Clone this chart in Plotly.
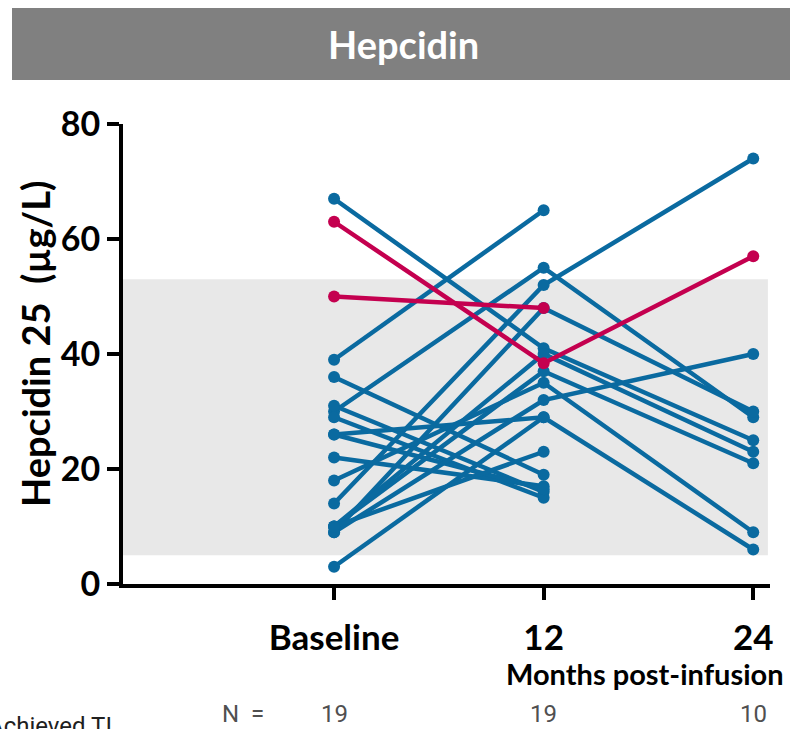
import plotly.graph_objects as go

# ---- data -------------------------------------------------------------
time_labels = ["Baseline", "12", "24"]
n_counts = [19, 19, 10]

# hepcidin-25 (µg/L) per patient at baseline, month 12 and month 24
baseline = [67, 39, 30, 9, 14, 36, 31, 29, 26, 3, 22, 26, 18, 10, 10, 9, 10, 63, 50]
month12 = [41, 65, 55, 48, 52, 19, 16, 15, 29, 29, 17, 16.5, 35, 37, 40, 32, 23, 38.4, 48]
month24 = [25, None, 29, 30, 74, None, None, None, 6, None, None, None, 9, 21, 23, 40, None, 57, None]
highlight = [False] * 17 + [True, True]

normal_low, normal_high = 5, 53

# ---- style ------------------------------------------------------------
BLUE = "#0a6aa0"
RED = "#c4004f"
FONT = "Lato"
SMALL_FONT = "Liberation Sans Narrow, Roboto"

W, H = 790, 729
L, R, T, B = 123, 770, 124, 584


def px_x(p):
    return (p - L) / (R - L)


def px_y(p):
    return (B - p) / (B - T)


fig = go.Figure()

# reference range band
fig.add_shape(type="rect", xref="x", yref="y", x0=-1.007, x1=2.07,
              y0=normal_low, y1=normal_high, fillcolor="#e8e8e8",
              line=dict(width=0), layer="below")

order = [i for i in range(len(baseline)) if not highlight[i]] + \
        [i for i in range(len(baseline)) if highlight[i]]
for i in order:
    xs, ys = [], []
    for k, v in enumerate([baseline[i], month12[i], month24[i]]):
        if v is not None:
            xs.append(k)
            ys.append(v)
    col = RED if highlight[i] else BLUE
    fig.add_trace(go.Scatter(
        x=xs, y=ys, mode="lines+markers",
        line=dict(color=col, width=4.5),
        marker=dict(color=col, size=12),
        showlegend=False, hoverinfo="skip"))

# title bar
fig.add_shape(type="rect", xref="paper", yref="paper",
              x0=px_x(12), x1=px_x(792), y0=px_y(80), y1=px_y(8),
              fillcolor="#808080", line=dict(width=0))
fig.add_annotation(xref="paper", yref="paper", x=px_x(403), y=px_y(44),
                   text="<b>Hepcidin</b>", showarrow=False,
                   font=dict(family=FONT, size=38, color="white"),
                   xanchor="center", yanchor="middle")

# y title
fig.add_annotation(xref="paper", yref="paper", x=px_x(35), y=px_y(344),
                   text="<b>Hepcidin 25  (µg/L)</b>", showarrow=False,
                   textangle=-90, font=dict(family=FONT, size=38, color="black"),
                   xanchor="center", yanchor="middle")

# x subtitle
fig.add_annotation(xref="paper", yref="paper", x=px_x(786), y=px_y(673),
                   text="<b>Months post-infusion</b>", showarrow=False,
                   font=dict(family=FONT, size=29, color="black"),
                   xanchor="right", yanchor="middle")

# N row
fig.add_annotation(xref="paper", yref="paper", x=px_x(243), y=px_y(714),
                   text="N  =", showarrow=False,
                   font=dict(family=SMALL_FONT, size=24, color="#505050"),
                   xanchor="center", yanchor="middle")
for k, n in enumerate(n_counts):
    fig.add_annotation(xref="x", yref="paper", x=k, y=px_y(714),
                       text=str(n), showarrow=False,
                       font=dict(family=SMALL_FONT, size=24, color="#505050"),
                       xanchor="center", yanchor="middle")
fig.add_annotation(xref="paper", yref="paper", x=px_x(-14), y=px_y(726),
                   text="Achieved TI", showarrow=False,
                   font=dict(family=SMALL_FONT, size=24, color="#202020"),
                   xanchor="left", yanchor="middle")

fig.update_layout(
    width=W, height=H,
    margin=dict(l=L, r=W - R, t=T, b=H - B, pad=0),
    paper_bgcolor="white", plot_bgcolor="white",
    font=dict(family=FONT, color="black"),
    xaxis=dict(range=[-1.007, 2.08], tickvals=[0, 1, 2],
               ticktext=[f"<b>{t}</b>" for t in time_labels],
               showline=True, linewidth=4, linecolor="black",
               ticks="outside", ticklen=12, tickwidth=4, tickcolor="black",
               showgrid=False, zeroline=False,
               tickfont=dict(family=FONT, size=35, color="black"),
               ticklabelstandoff=8),
    yaxis=dict(range=[0, 80], tickvals=[0, 20, 40, 60, 80],
               showline=True, linewidth=4, linecolor="black",
               ticks="outside", ticklen=12, tickwidth=4, tickcolor="black",
               showgrid=False, zeroline=False,
               tickfont=dict(family=FONT, size=34, color="black", weight="bold"),
               ticklabelstandoff=0),
)

fig.write_html("out.html")
